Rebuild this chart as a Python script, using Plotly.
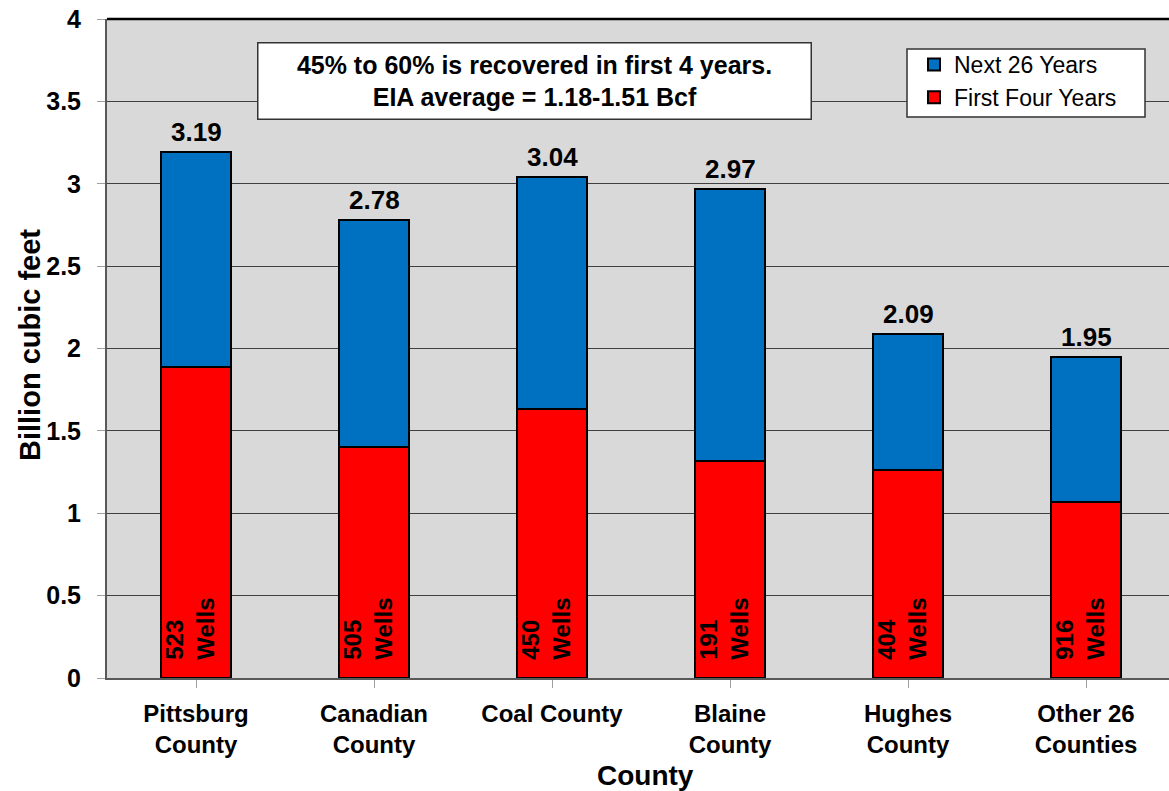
import plotly.graph_objects as go

categories = ["Pittsburg<br>County", "Canadian<br>County", "Coal County", "Blaine<br>County",
              "Hughes<br>County", "Other 26<br>Counties"]
first_four = [1.89, 1.40, 1.63, 1.32, 1.26, 1.07]
totals = [3.19, 2.78, 3.04, 2.97, 2.09, 1.95]
next_26 = [round(t - f, 2) for t, f in zip(totals, first_four)]
wells = [523, 505, 450, 191, 404, 916]
y_ticks = [0, 0.5, 1, 1.5, 2, 2.5, 3, 3.5, 4]
y_tick_labels = ["0", "0.5", "1", "1.5", "2", "2.5", "3", "3.5", "4"]

FONT = "Liberation Sans, Arial, sans-serif"
x = list(range(len(categories)))

# body margin is removed in the page, so the figure starts at (0, 0)
PL, PT, PR, PB = 107, 19, 1169, 678  # plot area in figure px
W, H = 1169, 791
PW, PH = PR - PL, PB - PT


def px(xs):
    return (xs - PL) / PW


def py(ys):
    return (PB - ys) / PH


fig = go.Figure()
fig.add_trace(go.Bar(x=x, y=first_four, name="First Four Years", width=0.39,
                     marker=dict(color="#FF0000", line=dict(color="black", width=2))))
fig.add_trace(go.Bar(x=x, y=next_26, name="Next 26 Years", width=0.39,
                     marker=dict(color="#0070C0", line=dict(color="black", width=2))))

for xi, t in zip(x, totals):
    fig.add_annotation(x=xi, y=t, text=f"<b>{t:.2f}</b>", showarrow=False,
                       yanchor="bottom", yshift=3,
                       font=dict(family=FONT, size=26, color="black"))
for xi, w in zip(x, wells):
    fig.add_annotation(x=xi - 0.035, y=0, text=f"<b>{w}<br>Wells</b>", showarrow=False,
                       textangle=-90, align="left", yanchor="bottom", yshift=16,
                       font=dict(family=FONT, size=24, color="black"))

fig.add_annotation(xref="paper", yref="paper", x=px(257), y=py(42),
                   xanchor="left", yanchor="top",
                   text="<b>45% to 60% is recovered in first 4 years.<br>EIA average = 1.18-1.51 Bcf</b>",
                   showarrow=False, align="center", bgcolor="white", bordercolor="#333333",
                   borderwidth=1.5, width=550, height=73,
                   font=dict(family=FONT, size=25, color="black"))

# axis titles
fig.add_annotation(xref="paper", yref="paper", x=px(645), y=py(775),
                   text="<b>County</b>", showarrow=False, xanchor="center", yanchor="middle",
                   font=dict(family=FONT, size=28, color="black"))
fig.add_annotation(xref="paper", yref="paper", x=px(30), y=py(345),
                   text="<b>Billion cubic feet</b>", showarrow=False, textangle=-90,
                   xanchor="center", yanchor="middle",
                   font=dict(family=FONT, size=29, color="black"))

# legend box
fig.add_shape(type="rect", xref="paper", yref="paper", x0=px(907), x1=px(1145), y0=py(117), y1=py(49),
              fillcolor="white", line=dict(color="#333333", width=1.5), layer="above")
# black top border of the plot area
fig.add_shape(type="line", xref="paper", yref="paper", x0=0, x1=1, y0=1, y1=1,
              line=dict(color="black", width=2.5), layer="above")

fig.update_layout(
    width=W, height=H,
    margin=dict(l=PL, r=W - PR, t=PT, b=H - PB, autoexpand=False),
    paper_bgcolor="white", plot_bgcolor="#D9D9D9",
    barmode="stack",
    font=dict(family=FONT, color="black"),
    showlegend=True,
    legend=dict(x=px(914), y=py(43), xanchor="left", yanchor="top",
                bgcolor="rgba(0,0,0,0)", borderwidth=0,
                traceorder="reversed", font=dict(family=FONT, size=23),
                itemwidth=30, tracegroupgap=0),
    xaxis=dict(range=[-0.5, -0.5 + PW / 178], tickmode="array", tickvals=x,
               ticktext=[f"<b>{c}</b>" for c in categories], automargin=False,
               tickfont=dict(family=FONT, size=24), showgrid=False,
               showline=True, linecolor="#595959", linewidth=2,
               ticks="outside", tickson="boundaries", ticklen=8, tickcolor="#A0A0A0",
               ticklabelstandoff=5, ticklabeloverflow="allow"),
    yaxis=dict(range=[0, 4], tickmode="array", tickvals=y_ticks, automargin=False,
               ticktext=[f"<b>{t}</b>" for t in y_tick_labels],
               tickfont=dict(family=FONT, size=25), showgrid=True, gridcolor="#404040", gridwidth=1,
               showline=True, linecolor="#595959", linewidth=2, zeroline=False,
               ticks="outside", ticklen=8, tickcolor="#A0A0A0", ticklabelstandoff=11,
               ticklabeloverflow="allow"),
)

fig.write_html("out.html", config={"displayModeBar": False},
               post_script="document.body.style.margin='0px';document.body.style.overflow='hidden';")
